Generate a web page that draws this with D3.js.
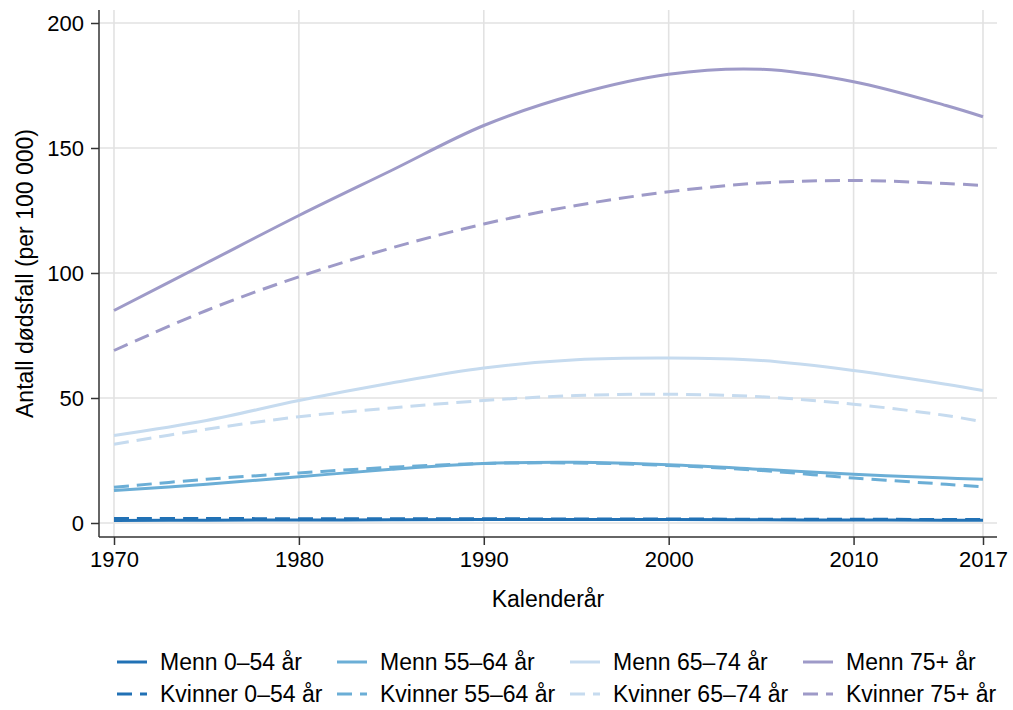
<!DOCTYPE html>
<html><head><meta charset="utf-8">
<script src="https://cdn.jsdelivr.net/npm/d3@7"></script>
<style>body{margin:0;background:#fff}svg{display:block;font-family:"Liberation Sans",Arial,sans-serif}</style>
</head><body>
<svg id="c" width="1013" height="710"></svg>
<script>
const years = [1970,1975,1980,1985,1990,1995,2000,2005,2010,2015,2017];
const xTicks = [1970,1980,1990,2000,2010,2017];
const yTicks = [0,50,100,150,200];
const menn0_54   = [1.0,1.1,1.2,1.3,1.4,1.4,1.4,1.3,1.2,1.1,1.1];
const kvinner0_54= [1.8,1.8,1.7,1.7,1.7,1.6,1.6,1.5,1.5,1.4,1.4];
const menn55_64  = [13,15.5,18.5,21.5,23.8,24.3,23.3,21.5,19.5,18,17.5];
const kvinner55_64=[14.3,17.5,20,22.3,23.8,24,23,21,18,15.5,14.5];
const menn65_74  = [35,41,49,56,62,65.3,66,65,61,55.5,53];
const kvinner65_74=[31.5,37.5,42.5,46,49,51,51.5,50.5,47.5,43,40.5];
const menn75     = [85,104,123,141,159,171.5,179.5,181.5,176.5,167,162.5];
const kvinner75  = [69,85,98.5,110,119.6,127,132.5,136,137,135.8,135];
const series = [
  {name:"Menn 0–54 år", values:menn0_54, color:"#2171b5", dash:false},
  {name:"Kvinner 0–54 år", values:kvinner0_54, color:"#2171b5", dash:true},
  {name:"Menn 55–64 år", values:menn55_64, color:"#6baed6", dash:false},
  {name:"Kvinner 55–64 år", values:kvinner55_64, color:"#6baed6", dash:true},
  {name:"Menn 65–74 år", values:menn65_74, color:"#c6dbef", dash:false},
  {name:"Kvinner 65–74 år", values:kvinner65_74, color:"#c6dbef", dash:true},
  {name:"Menn 75+ år", values:menn75, color:"#9e9ac8", dash:false},
  {name:"Kvinner 75+ år", values:kvinner75, color:"#9e9ac8", dash:true}
];

const svg = d3.select("#c");
const x = d3.scaleLinear().domain([1970,2017]).range([114,983]);
const y = d3.scaleLinear().domain([0,200]).range([523,23]);
const L=99, R=997, T=10, B=537;
const grid = "#e2e2e2", axisC = "#333";

// grid
svg.append("g").selectAll("line").data(xTicks).join("line")
  .attr("x1",d=>x(d)).attr("x2",d=>x(d)).attr("y1",T).attr("y2",B)
  .attr("stroke",grid).attr("stroke-width",1.6);
svg.append("g").selectAll("line").data(yTicks).join("line")
  .attr("x1",L).attr("x2",R).attr("y1",d=>y(d)).attr("y2",d=>y(d))
  .attr("stroke",grid).attr("stroke-width",1.6);

// lines
const line = d3.line().curve(d3.curveCatmullRom.alpha(0.5));
const order = [6,7,4,5,2,3,0,1];
svg.append("g").selectAll("path").data(order.map(i=>series[i])).join("path")
  .attr("d",s=>line(years.map((yr,i)=>[x(yr),y(s.values[i])])))
  .attr("fill","none").attr("stroke",s=>s.color).attr("stroke-width",3)
  .attr("stroke-dasharray",s=>s.dash?"15,8":null);

// axes
const xa = svg.append("g").attr("transform",`translate(0,${B})`)
  .call(d3.axisBottom(x).tickValues(xTicks).tickFormat(d3.format("d")).tickSize(8).tickPadding(6));
const ya = svg.append("g").attr("transform",`translate(${L},0)`)
  .call(d3.axisLeft(y).tickValues(yTicks).tickSize(8).tickPadding(7));
[xa,ya].forEach(g=>{
  g.select(".domain").remove();
  g.selectAll(".tick line").attr("stroke",axisC).attr("stroke-width",1.5);
  g.selectAll(".tick text").attr("fill","#000").style("font-size","22px").style("font-family","'Liberation Sans',Arial,sans-serif");
});
svg.append("line").attr("x1",L).attr("x2",R).attr("y1",B).attr("y2",B).attr("stroke",axisC).attr("stroke-width",1.5);
svg.append("line").attr("x1",L).attr("x2",L).attr("y1",T).attr("y2",B).attr("stroke",axisC).attr("stroke-width",1.5);

// titles
svg.append("text").attr("x",(L+R)/2).attr("y",607).attr("text-anchor","middle")
  .style("font-size","23px").text("Kalenderår");
svg.append("text").attr("transform",`translate(33,${(T+B)/2}) rotate(-90)`).attr("text-anchor","middle")
  .style("font-size","23px").text("Antall dødsfall (per 100 000)");

// legend
const colX = [117,337,570,803];
const rowY = [662,694];
const lg = svg.append("g");
series.forEach((s,i)=>{
  const cx = colX[Math.floor(i/2)], cy = rowY[i%2];
  lg.append("line").attr("x1",cx).attr("x2",cx+30).attr("y1",cy).attr("y2",cy)
    .attr("stroke",s.color).attr("stroke-width",3).attr("stroke-dasharray",s.dash?"15,8":null);
  lg.append("text").attr("x",cx+43).attr("y",cy+8).style("font-size","23px").text(s.name);
});
</script>
</body></html>
